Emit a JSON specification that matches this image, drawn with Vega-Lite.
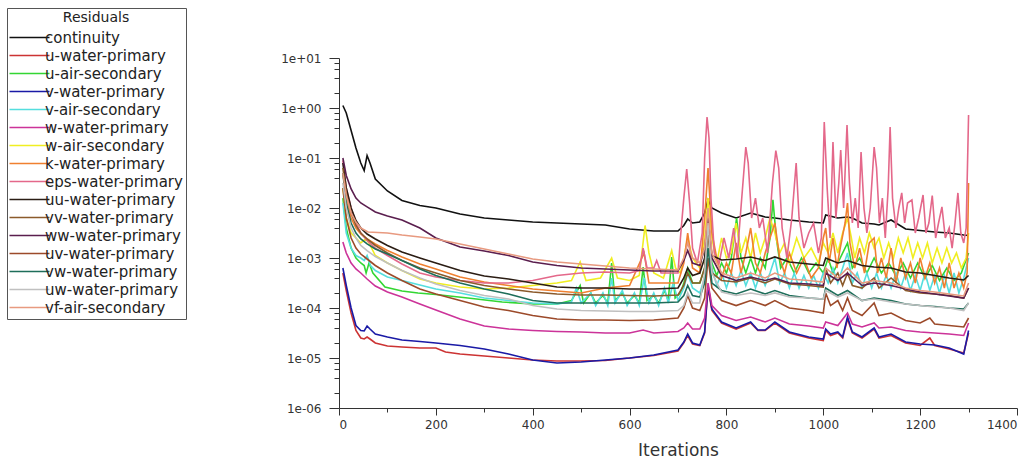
{
"$schema": "https://vega.github.io/schema/vega-lite/v6.json",
"autosize": "none",
"width": 678,
"height": 350,
"padding": {"left": 339, "top": 58, "right": 15, "bottom": 60},
"background": "white",
"config": {
  "view": {"stroke": null},
  "line": {"strokeWidth": 1.6, "interpolate": "linear"},
  "axis": {"grid": false, "domainColor": "#333", "tickColor": "#333", "labelColor": "#333", "labelFont": "DejaVu Sans", "titleFont": "DejaVu Sans", "titleColor": "#333", "titleFontWeight": "normal"}
},
"datasets": {
"continuity": [{"x":8,"y":1.12},{"x":15,"y":0.794},{"x":25,"y":0.355},{"x":35,"y":0.158},{"x":45,"y":0.0794},{"x":52,"y":0.0562},{"x":58,"y":0.112},{"x":64,"y":0.0794},{"x":75,"y":0.038},{"x":100,"y":0.0219},{"x":130,"y":0.0141},{"x":167,"y":0.0112},{"x":200,"y":0.01},{"x":250,"y":7.59e-3},{"x":300,"y":6.31e-3},{"x":350,"y":5.75e-3},{"x":400,"y":5.25e-3},{"x":450,"y":5.01e-3},{"x":500,"y":4.79e-3},{"x":550,"y":4.57e-3},{"x":600,"y":3.8e-3},{"x":650,"y":3.47e-3},{"x":700,"y":3.47e-3},{"x":712,"y":4.47e-3},{"x":720,"y":6.03e-3},{"x":730,"y":5.01e-3},{"x":745,"y":5.25e-3},{"x":755,"y":7.94e-3},{"x":762,"y":1.45e-2},{"x":770,"y":1e-2},{"x":790,"y":7.94e-3},{"x":820,"y":6.31e-3},{"x":850,"y":7.94e-3},{"x":880,"y":6.61e-3},{"x":900,"y":6.31e-3},{"x":930,"y":5.75e-3},{"x":970,"y":5.25e-3},{"x":1000,"y":5.01e-3},{"x":1005,"y":7.24e-3},{"x":1030,"y":6.31e-3},{"x":1050,"y":6.61e-3},{"x":1060,"y":6.31e-3},{"x":1080,"y":5.01e-3},{"x":1105,"y":4.79e-3},{"x":1115,"y":4.57e-3},{"x":1140,"y":5.75e-3},{"x":1170,"y":3.8e-3},{"x":1200,"y":3.55e-3},{"x":1230,"y":3.31e-3},{"x":1260,"y":3.16e-3},{"x":1290,"y":2.88e-3},{"x":1300,"y":2.82e-3}],
"u-water-primary": [{"x":8,"y":5.01e-4},{"x":15,"y":2.24e-4},{"x":25,"y":7.94e-5},{"x":35,"y":3.55e-5},{"x":45,"y":2.51e-5},{"x":52,"y":2.4e-5},{"x":58,"y":2.63e-5},{"x":64,"y":2.4e-5},{"x":75,"y":2.0e-5},{"x":100,"y":1.74e-5},{"x":130,"y":1.66e-5},{"x":167,"y":1.58e-5},{"x":200,"y":1.58e-5},{"x":220,"y":1.32e-5},{"x":250,"y":1.2e-5},{"x":300,"y":1.1e-5},{"x":350,"y":1.0e-5},{"x":400,"y":9.12e-6},{"x":450,"y":8.71e-6},{"x":500,"y":8.71e-6},{"x":550,"y":8.91e-6},{"x":600,"y":1.0e-5},{"x":650,"y":1.12e-5},{"x":700,"y":1.38e-5},{"x":712,"y":2.0e-5},{"x":720,"y":2.82e-5},{"x":730,"y":1.91e-5},{"x":745,"y":1.78e-5},{"x":755,"y":3.16e-5},{"x":762,"y":2.51e-4},{"x":770,"y":8.91e-5},{"x":790,"y":5.01e-5},{"x":820,"y":3.8e-5},{"x":850,"y":5.01e-5},{"x":865,"y":3.55e-5},{"x":880,"y":3.55e-5},{"x":900,"y":5.01e-5},{"x":930,"y":3.16e-5},{"x":970,"y":2.51e-5},{"x":1000,"y":2.24e-5},{"x":1005,"y":3.55e-5},{"x":1015,"y":2.82e-5},{"x":1030,"y":3.16e-5},{"x":1040,"y":2.51e-5},{"x":1050,"y":6.03e-5},{"x":1060,"y":3.16e-5},{"x":1080,"y":2.51e-5},{"x":1105,"y":3.8e-5},{"x":1115,"y":2.51e-5},{"x":1140,"y":2.82e-5},{"x":1170,"y":2.0e-5},{"x":1200,"y":1.78e-5},{"x":1220,"y":2.51e-5},{"x":1230,"y":1.78e-5},{"x":1260,"y":1.51e-5},{"x":1290,"y":1.26e-5},{"x":1300,"y":3.16e-5}],
"u-air-secondary": [{"x":8,"y":1.58e-2},{"x":15,"y":3.98e-3},{"x":25,"y":1.58e-3},{"x":35,"y":1.0e-3},{"x":45,"y":7.94e-4},{"x":52,"y":7.08e-4},{"x":56,"y":5.01e-4},{"x":62,"y":7.94e-4},{"x":70,"y":5.01e-4},{"x":95,"y":2.63e-4},{"x":130,"y":2.19e-4},{"x":163,"y":2.0e-4},{"x":200,"y":1.86e-4},{"x":266,"y":1.58e-4},{"x":337,"y":1.32e-4},{"x":400,"y":1.2e-4},{"x":450,"y":1.2e-4},{"x":480,"y":1.41e-4},{"x":498,"y":2.82e-4},{"x":505,"y":1.26e-4},{"x":520,"y":2.0e-4},{"x":530,"y":1.26e-4},{"x":545,"y":1.78e-4},{"x":555,"y":1.26e-4},{"x":563,"y":7.94e-4},{"x":570,"y":1.41e-4},{"x":585,"y":2.0e-4},{"x":595,"y":1.26e-4},{"x":610,"y":1.78e-4},{"x":620,"y":1.26e-4},{"x":628,"y":6.61e-4},{"x":636,"y":1.41e-4},{"x":650,"y":1.78e-4},{"x":660,"y":1.26e-4},{"x":672,"y":2.24e-4},{"x":680,"y":1.41e-4},{"x":687,"y":1.05e-3},{"x":694,"y":1.58e-4},{"x":705,"y":2.0e-4},{"x":712,"y":3.16e-4},{"x":720,"y":6.31e-4},{"x":730,"y":3.16e-4},{"x":745,"y":3.16e-4},{"x":755,"y":6.31e-4},{"x":762,"y":3.98e-3},{"x":770,"y":7.94e-4},{"x":780,"y":4.47e-4},{"x":790,"y":7.94e-4},{"x":800,"y":5.01e-4},{"x":810,"y":1.0e-3},{"x":821,"y":6.31e-3},{"x":830,"y":1.0e-3},{"x":840,"y":5.01e-4},{"x":850,"y":1.0e-3},{"x":860,"y":5.01e-4},{"x":870,"y":1.0e-3},{"x":880,"y":6.31e-4},{"x":890,"y":2.51e-3},{"x":896,"y":1.45e-2},{"x":903,"y":2.51e-3},{"x":912,"y":6.31e-4},{"x":925,"y":1.0e-3},{"x":940,"y":5.01e-4},{"x":955,"y":1.0e-3},{"x":970,"y":5.01e-4},{"x":985,"y":7.94e-4},{"x":1000,"y":5.01e-4},{"x":1010,"y":1.0e-3},{"x":1020,"y":5.01e-4},{"x":1035,"y":1.0e-3},{"x":1050,"y":2.0e-3},{"x":1060,"y":6.31e-4},{"x":1075,"y":1.0e-3},{"x":1090,"y":5.01e-4},{"x":1105,"y":1.0e-3},{"x":1120,"y":5.01e-4},{"x":1135,"y":7.94e-4},{"x":1150,"y":4.47e-4},{"x":1165,"y":7.94e-4},{"x":1180,"y":3.98e-4},{"x":1195,"y":7.94e-4},{"x":1210,"y":3.98e-4},{"x":1225,"y":7.08e-4},{"x":1240,"y":3.55e-4},{"x":1255,"y":6.31e-4},{"x":1270,"y":3.55e-4},{"x":1285,"y":5.01e-4},{"x":1300,"y":1.26e-3}],
"v-water-primary": [{"x":8,"y":6.31e-4},{"x":15,"y":2.82e-4},{"x":25,"y":1.0e-4},{"x":35,"y":4.47e-5},{"x":45,"y":3.55e-5},{"x":52,"y":3.47e-5},{"x":58,"y":4.37e-5},{"x":64,"y":3.8e-5},{"x":75,"y":3.02e-5},{"x":100,"y":2.63e-5},{"x":130,"y":2.29e-5},{"x":167,"y":2.14e-5},{"x":200,"y":2.0e-5},{"x":250,"y":1.78e-5},{"x":300,"y":1.51e-5},{"x":350,"y":1.2e-5},{"x":400,"y":9.12e-6},{"x":450,"y":7.94e-6},{"x":500,"y":8.32e-6},{"x":550,"y":9.12e-6},{"x":600,"y":1.0e-5},{"x":650,"y":1.15e-5},{"x":700,"y":1.45e-5},{"x":712,"y":2.09e-5},{"x":720,"y":3.02e-5},{"x":730,"y":2.0e-5},{"x":745,"y":1.82e-5},{"x":755,"y":3.31e-5},{"x":762,"y":2.82e-4},{"x":770,"y":9.55e-5},{"x":790,"y":5.25e-5},{"x":820,"y":3.98e-5},{"x":850,"y":5.25e-5},{"x":865,"y":3.63e-5},{"x":880,"y":3.63e-5},{"x":900,"y":5.25e-5},{"x":930,"y":3.31e-5},{"x":970,"y":2.63e-5},{"x":1000,"y":2.4e-5},{"x":1005,"y":3.8e-5},{"x":1015,"y":3.02e-5},{"x":1030,"y":3.31e-5},{"x":1040,"y":2.63e-5},{"x":1050,"y":6.61e-5},{"x":1060,"y":3.31e-5},{"x":1080,"y":2.63e-5},{"x":1105,"y":3.98e-5},{"x":1115,"y":2.63e-5},{"x":1140,"y":3.02e-5},{"x":1170,"y":2.09e-5},{"x":1200,"y":1.91e-5},{"x":1230,"y":1.82e-5},{"x":1260,"y":1.58e-5},{"x":1290,"y":1.2e-5},{"x":1300,"y":3.55e-5}],
"v-air-secondary": [{"x":8,"y":1.26e-2},{"x":15,"y":3.16e-3},{"x":25,"y":1.58e-3},{"x":35,"y":1.12e-3},{"x":45,"y":1.0e-3},{"x":52,"y":8.91e-4},{"x":58,"y":1.12e-3},{"x":65,"y":7.08e-4},{"x":75,"y":5.62e-4},{"x":100,"y":4.17e-4},{"x":130,"y":3.55e-4},{"x":167,"y":2.88e-4},{"x":200,"y":2.4e-4},{"x":250,"y":2.0e-4},{"x":300,"y":1.58e-4},{"x":350,"y":1.41e-4},{"x":400,"y":1.26e-4},{"x":450,"y":1.2e-4},{"x":480,"y":1.32e-4},{"x":490,"y":2.51e-4},{"x":500,"y":1.26e-4},{"x":520,"y":2.0e-4},{"x":530,"y":1.12e-4},{"x":545,"y":2.0e-4},{"x":555,"y":1.12e-4},{"x":563,"y":3.98e-4},{"x":570,"y":1.26e-4},{"x":585,"y":2.24e-4},{"x":595,"y":1.12e-4},{"x":610,"y":2.0e-4},{"x":620,"y":1.12e-4},{"x":630,"y":3.98e-4},{"x":640,"y":1.26e-4},{"x":650,"y":2.0e-4},{"x":660,"y":1.12e-4},{"x":672,"y":2.51e-4},{"x":680,"y":1.26e-4},{"x":690,"y":3.16e-4},{"x":700,"y":1.41e-4},{"x":712,"y":2.51e-4},{"x":720,"y":5.01e-4},{"x":730,"y":2.51e-4},{"x":745,"y":2.0e-4},{"x":755,"y":3.98e-4},{"x":762,"y":3.16e-3},{"x":770,"y":6.31e-4},{"x":780,"y":2.82e-4},{"x":790,"y":5.01e-4},{"x":800,"y":2.51e-4},{"x":810,"y":5.01e-4},{"x":820,"y":2.82e-4},{"x":830,"y":5.62e-4},{"x":840,"y":2.82e-4},{"x":850,"y":5.01e-4},{"x":860,"y":2.51e-4},{"x":870,"y":5.01e-4},{"x":880,"y":2.82e-4},{"x":890,"y":5.01e-4},{"x":900,"y":1.0e-3},{"x":910,"y":3.16e-4},{"x":920,"y":5.01e-4},{"x":930,"y":2.51e-4},{"x":940,"y":5.01e-4},{"x":950,"y":2.51e-4},{"x":960,"y":4.47e-4},{"x":970,"y":2.51e-4},{"x":980,"y":4.47e-4},{"x":990,"y":2.51e-4},{"x":1000,"y":5.01e-4},{"x":1010,"y":3.16e-4},{"x":1020,"y":6.31e-4},{"x":1030,"y":3.16e-4},{"x":1040,"y":6.31e-4},{"x":1050,"y":1.26e-3},{"x":1060,"y":3.16e-4},{"x":1070,"y":5.01e-4},{"x":1080,"y":2.51e-4},{"x":1090,"y":5.01e-4},{"x":1100,"y":2.51e-4},{"x":1110,"y":5.01e-4},{"x":1120,"y":2.51e-4},{"x":1130,"y":4.47e-4},{"x":1140,"y":2.51e-4},{"x":1150,"y":5.01e-4},{"x":1160,"y":2.51e-4},{"x":1170,"y":5.01e-4},{"x":1180,"y":2.24e-4},{"x":1190,"y":4.47e-4},{"x":1200,"y":2.24e-4},{"x":1210,"y":5.01e-4},{"x":1220,"y":2.24e-4},{"x":1230,"y":4.47e-4},{"x":1240,"y":2.0e-4},{"x":1250,"y":4.47e-4},{"x":1260,"y":2.0e-4},{"x":1270,"y":5.01e-4},{"x":1280,"y":2.0e-4},{"x":1290,"y":3.98e-4},{"x":1300,"y":1.0e-3}],
"w-water-primary": [{"x":8,"y":2.09e-3},{"x":15,"y":1.26e-3},{"x":25,"y":7.94e-4},{"x":35,"y":6.03e-4},{"x":45,"y":5.01e-4},{"x":58,"y":3.8e-4},{"x":75,"y":2.75e-4},{"x":100,"y":2.09e-4},{"x":130,"y":1.66e-4},{"x":167,"y":1.2e-4},{"x":200,"y":9.12e-5},{"x":250,"y":6.03e-5},{"x":300,"y":4.37e-5},{"x":350,"y":3.8e-5},{"x":400,"y":3.55e-5},{"x":450,"y":3.39e-5},{"x":500,"y":3.31e-5},{"x":550,"y":3.16e-5},{"x":600,"y":3.16e-5},{"x":628,"y":3.63e-5},{"x":650,"y":3.16e-5},{"x":700,"y":3.39e-5},{"x":712,"y":3.98e-5},{"x":720,"y":5.01e-5},{"x":730,"y":3.8e-5},{"x":745,"y":3.8e-5},{"x":755,"y":6.31e-5},{"x":762,"y":3.16e-4},{"x":770,"y":1.12e-4},{"x":790,"y":7.08e-5},{"x":820,"y":5.62e-5},{"x":850,"y":6.61e-5},{"x":880,"y":5.25e-5},{"x":900,"y":6.31e-5},{"x":930,"y":4.79e-5},{"x":970,"y":4.37e-5},{"x":1000,"y":3.98e-5},{"x":1005,"y":5.25e-5},{"x":1030,"y":4.47e-5},{"x":1050,"y":7.94e-5},{"x":1060,"y":4.79e-5},{"x":1080,"y":4.17e-5},{"x":1105,"y":5.01e-5},{"x":1115,"y":3.98e-5},{"x":1140,"y":4.17e-5},{"x":1170,"y":3.55e-5},{"x":1200,"y":3.31e-5},{"x":1230,"y":3.16e-5},{"x":1260,"y":3.02e-5},{"x":1290,"y":2.82e-5},{"x":1300,"y":5.01e-5}],
"w-air-secondary": [{"x":8,"y":2.51e-2},{"x":15,"y":6.31e-3},{"x":25,"y":3.16e-3},{"x":35,"y":2.51e-3},{"x":45,"y":2.0e-3},{"x":55,"y":2.4e-3},{"x":62,"y":2.0e-3},{"x":75,"y":1.12e-3},{"x":100,"y":7.94e-4},{"x":130,"y":5.62e-4},{"x":167,"y":3.8e-4},{"x":200,"y":3.16e-4},{"x":250,"y":2.63e-4},{"x":300,"y":2.4e-4},{"x":350,"y":2.51e-4},{"x":400,"y":2.82e-4},{"x":450,"y":3.16e-4},{"x":480,"y":3.55e-4},{"x":498,"y":8.32e-4},{"x":510,"y":3.55e-4},{"x":540,"y":3.98e-4},{"x":563,"y":1.0e-3},{"x":575,"y":3.98e-4},{"x":600,"y":3.55e-4},{"x":620,"y":4.47e-4},{"x":632,"y":4.47e-3},{"x":640,"y":1.26e-3},{"x":650,"y":5.01e-4},{"x":670,"y":3.98e-4},{"x":687,"y":1.41e-3},{"x":695,"y":6.31e-4},{"x":705,"y":5.01e-4},{"x":712,"y":1.0e-3},{"x":720,"y":2.51e-3},{"x":730,"y":1.0e-3},{"x":745,"y":6.31e-4},{"x":755,"y":2.51e-3},{"x":762,"y":1.58e-2},{"x":770,"y":2.51e-3},{"x":780,"y":7.94e-4},{"x":790,"y":2.51e-3},{"x":800,"y":1.0e-3},{"x":810,"y":1.26e-3},{"x":820,"y":5.01e-3},{"x":830,"y":1.26e-3},{"x":840,"y":2.51e-3},{"x":850,"y":1.0e-3},{"x":860,"y":3.16e-3},{"x":870,"y":1.26e-3},{"x":880,"y":2.51e-3},{"x":890,"y":6.31e-3},{"x":900,"y":3.16e-3},{"x":910,"y":1.26e-3},{"x":920,"y":2.0e-3},{"x":930,"y":7.94e-4},{"x":945,"y":2.51e-3},{"x":960,"y":1.0e-3},{"x":975,"y":1.58e-3},{"x":990,"y":7.94e-4},{"x":1000,"y":2.0e-3},{"x":1010,"y":1.26e-3},{"x":1020,"y":3.16e-3},{"x":1030,"y":1.26e-3},{"x":1040,"y":3.16e-3},{"x":1050,"y":6.31e-3},{"x":1058,"y":2.51e-3},{"x":1065,"y":1.0e-3},{"x":1075,"y":2.51e-3},{"x":1085,"y":1.26e-3},{"x":1095,"y":3.16e-3},{"x":1105,"y":1.58e-3},{"x":1115,"y":2.51e-3},{"x":1125,"y":1.0e-3},{"x":1135,"y":2.0e-3},{"x":1145,"y":1.0e-3},{"x":1155,"y":2.51e-3},{"x":1165,"y":1.26e-3},{"x":1175,"y":2.51e-3},{"x":1185,"y":1.0e-3},{"x":1195,"y":2.0e-3},{"x":1205,"y":1.0e-3},{"x":1215,"y":2.0e-3},{"x":1225,"y":7.94e-4},{"x":1235,"y":1.58e-3},{"x":1245,"y":7.94e-4},{"x":1255,"y":1.58e-3},{"x":1265,"y":7.94e-4},{"x":1275,"y":1.26e-3},{"x":1285,"y":6.31e-4},{"x":1295,"y":1.0e-3},{"x":1300,"y":3.16e-3}],
"k-water-primary": [{"x":8,"y":5.01e-2},{"x":15,"y":1.58e-2},{"x":25,"y":6.31e-3},{"x":35,"y":3.98e-3},{"x":45,"y":3.02e-3},{"x":58,"y":2.4e-3},{"x":75,"y":1.91e-3},{"x":100,"y":1.41e-3},{"x":130,"y":1.05e-3},{"x":167,"y":7.59e-4},{"x":200,"y":6.03e-4},{"x":250,"y":4.17e-4},{"x":300,"y":3.31e-4},{"x":350,"y":2.82e-4},{"x":400,"y":2.4e-4},{"x":450,"y":2.19e-4},{"x":500,"y":2.0e-4},{"x":550,"y":2.51e-4},{"x":600,"y":2.82e-4},{"x":630,"y":1.26e-3},{"x":640,"y":3.16e-4},{"x":700,"y":3.16e-4},{"x":712,"y":7.94e-4},{"x":720,"y":3.16e-3},{"x":730,"y":6.31e-4},{"x":745,"y":5.01e-4},{"x":755,"y":6.31e-3},{"x":762,"y":6.31e-2},{"x":770,"y":3.16e-3},{"x":780,"y":1.0e-3},{"x":790,"y":3.98e-4},{"x":800,"y":7.94e-4},{"x":810,"y":5.01e-4},{"x":820,"y":2.0e-3},{"x":830,"y":5.01e-4},{"x":840,"y":1.26e-3},{"x":850,"y":3.98e-3},{"x":860,"y":7.94e-4},{"x":870,"y":5.01e-4},{"x":880,"y":1.26e-3},{"x":890,"y":2.51e-3},{"x":900,"y":5.01e-3},{"x":910,"y":1.0e-3},{"x":920,"y":5.01e-4},{"x":930,"y":1.26e-3},{"x":945,"y":5.01e-4},{"x":960,"y":1.0e-3},{"x":975,"y":3.98e-4},{"x":990,"y":6.31e-4},{"x":1000,"y":2.51e-3},{"x":1005,"y":3.98e-3},{"x":1012,"y":7.94e-4},{"x":1020,"y":2.51e-3},{"x":1028,"y":6.31e-4},{"x":1035,"y":1.58e-3},{"x":1045,"y":5.01e-3},{"x":1050,"y":1.26e-2},{"x":1055,"y":2.0e-3},{"x":1065,"y":6.31e-4},{"x":1075,"y":1.58e-3},{"x":1085,"y":5.01e-4},{"x":1095,"y":2.0e-3},{"x":1105,"y":2.51e-3},{"x":1112,"y":5.01e-4},{"x":1120,"y":1.0e-3},{"x":1130,"y":3.98e-4},{"x":1140,"y":1.58e-3},{"x":1150,"y":3.16e-4},{"x":1160,"y":1.0e-3},{"x":1170,"y":3.98e-4},{"x":1180,"y":7.94e-4},{"x":1190,"y":3.16e-4},{"x":1200,"y":1.0e-3},{"x":1210,"y":3.98e-4},{"x":1220,"y":7.94e-4},{"x":1230,"y":3.16e-4},{"x":1240,"y":6.31e-4},{"x":1250,"y":2.51e-4},{"x":1260,"y":7.94e-4},{"x":1270,"y":2.51e-4},{"x":1280,"y":5.01e-4},{"x":1290,"y":2.51e-4},{"x":1297,"y":5.01e-4},{"x":1300,"y":3.16e-2}],
"eps-water-primary": [{"x":8,"y":8.91e-2},{"x":15,"y":2.51e-2},{"x":25,"y":1e-2},{"x":35,"y":5.01e-3},{"x":45,"y":3.16e-3},{"x":58,"y":2.24e-3},{"x":75,"y":1.58e-3},{"x":100,"y":1.12e-3},{"x":130,"y":7.59e-4},{"x":167,"y":5.01e-4},{"x":200,"y":4.17e-4},{"x":250,"y":3.55e-4},{"x":300,"y":3.16e-4},{"x":350,"y":3.16e-4},{"x":400,"y":3.55e-4},{"x":450,"y":4.47e-4},{"x":500,"y":5.01e-4},{"x":550,"y":5.25e-4},{"x":600,"y":5.01e-4},{"x":620,"y":5.62e-4},{"x":628,"y":1.58e-3},{"x":636,"y":6.31e-4},{"x":650,"y":6.31e-4},{"x":656,"y":8.91e-4},{"x":665,"y":5.01e-4},{"x":700,"y":5.01e-4},{"x":705,"y":2.51e-3},{"x":712,"y":1.58e-2},{"x":718,"y":6.03e-2},{"x":724,"y":1.26e-2},{"x":730,"y":1.58e-3},{"x":740,"y":7.94e-4},{"x":750,"y":3.16e-3},{"x":755,"y":0.1},{"x":760,"y":0.661},{"x":764,"y":0.251},{"x":768,"y":1.58e-2},{"x":775,"y":1.26e-3},{"x":785,"y":7.94e-4},{"x":795,"y":2.51e-3},{"x":805,"y":1.0e-3},{"x":815,"y":3.98e-3},{"x":822,"y":1.0e-3},{"x":830,"y":1.0e-2},{"x":840,"y":0.166},{"x":845,"y":7.94e-2},{"x":852,"y":6.31e-3},{"x":860,"y":1.58e-2},{"x":868,"y":3.98e-3},{"x":875,"y":6.31e-3},{"x":885,"y":1.26e-3},{"x":895,"y":3.16e-2},{"x":902,"y":0.141},{"x":908,"y":6.31e-2},{"x":915,"y":3.98e-3},{"x":925,"y":1.0e-3},{"x":935,"y":6.31e-3},{"x":944,"y":7.94e-2},{"x":950,"y":6.31e-3},{"x":960,"y":1.58e-3},{"x":970,"y":3.16e-3},{"x":980,"y":5.01e-3},{"x":990,"y":1.26e-3},{"x":996,"y":2.51e-3},{"x":1002,"y":0.525},{"x":1008,"y":2.51e-2},{"x":1014,"y":2.51e-3},{"x":1020,"y":0.209},{"x":1026,"y":6.31e-3},{"x":1032,"y":3.16e-2},{"x":1036,"y":0.145},{"x":1042,"y":1.0e-2},{"x":1049,"y":0.457},{"x":1054,"y":3.16e-2},{"x":1060,"y":5.01e-3},{"x":1066,"y":1.58e-2},{"x":1072,"y":3.98e-3},{"x":1078,"y":0.132},{"x":1084,"y":1.0e-2},{"x":1090,"y":3.16e-3},{"x":1097,"y":1.0e-2},{"x":1105,"y":0.166},{"x":1110,"y":6.31e-2},{"x":1116,"y":5.01e-3},{"x":1122,"y":1.58e-2},{"x":1128,"y":2.51e-3},{"x":1134,"y":2.51e-2},{"x":1138,"y":0.417},{"x":1143,"y":1.58e-2},{"x":1150,"y":3.98e-3},{"x":1156,"y":1.0e-2},{"x":1162,"y":2.0e-2},{"x":1168,"y":5.01e-3},{"x":1174,"y":1.26e-2},{"x":1183,"y":1.45e-2},{"x":1190,"y":3.16e-3},{"x":1197,"y":6.31e-3},{"x":1206,"y":1.82e-2},{"x":1212,"y":3.16e-3},{"x":1218,"y":5.01e-3},{"x":1225,"y":1.78e-2},{"x":1232,"y":2.51e-3},{"x":1238,"y":5.01e-3},{"x":1245,"y":1.05e-2},{"x":1252,"y":2.51e-3},{"x":1260,"y":3.98e-3},{"x":1266,"y":1.58e-3},{"x":1272,"y":5.01e-3},{"x":1278,"y":2.0e-2},{"x":1284,"y":3.16e-3},{"x":1290,"y":2.0e-3},{"x":1295,"y":3.98e-3},{"x":1300,"y":0.724}],
"uu-water-primary": [{"x":8,"y":7.94e-2},{"x":15,"y":2.51e-2},{"x":25,"y":1e-2},{"x":35,"y":5.62e-3},{"x":45,"y":3.98e-3},{"x":58,"y":3.02e-3},{"x":75,"y":2.4e-3},{"x":100,"y":1.78e-3},{"x":130,"y":1.32e-3},{"x":167,"y":1.0e-3},{"x":200,"y":7.94e-4},{"x":250,"y":5.62e-4},{"x":300,"y":4.37e-4},{"x":350,"y":3.8e-4},{"x":400,"y":3.16e-4},{"x":450,"y":2.63e-4},{"x":500,"y":2.51e-4},{"x":550,"y":2.51e-4},{"x":600,"y":2.4e-4},{"x":650,"y":2.4e-4},{"x":700,"y":2.51e-4},{"x":712,"y":3.98e-4},{"x":720,"y":6.31e-4},{"x":730,"y":4.47e-4},{"x":745,"y":5.01e-4},{"x":755,"y":1.0e-3},{"x":762,"y":6.31e-3},{"x":770,"y":1.12e-3},{"x":790,"y":9.12e-4},{"x":820,"y":9.55e-4},{"x":850,"y":1.05e-3},{"x":880,"y":8.91e-4},{"x":900,"y":1.05e-3},{"x":930,"y":8.32e-4},{"x":970,"y":7.59e-4},{"x":1000,"y":7.08e-4},{"x":1005,"y":1.0e-3},{"x":1030,"y":7.94e-4},{"x":1050,"y":8.91e-4},{"x":1080,"y":7.08e-4},{"x":1105,"y":6.61e-4},{"x":1140,"y":6.31e-4},{"x":1170,"y":5.25e-4},{"x":1200,"y":5.01e-4},{"x":1230,"y":4.47e-4},{"x":1260,"y":3.98e-4},{"x":1290,"y":3.63e-4},{"x":1300,"y":4.47e-4}],
"vv-water-primary": [{"x":8,"y":6.31e-2},{"x":15,"y":2.0e-2},{"x":25,"y":7.94e-3},{"x":35,"y":4.47e-3},{"x":45,"y":3.16e-3},{"x":58,"y":2.4e-3},{"x":75,"y":1.78e-3},{"x":100,"y":1.26e-3},{"x":130,"y":8.91e-4},{"x":167,"y":6.31e-4},{"x":200,"y":5.01e-4},{"x":250,"y":3.55e-4},{"x":300,"y":2.82e-4},{"x":350,"y":2.4e-4},{"x":400,"y":2.09e-4},{"x":450,"y":1.91e-4},{"x":500,"y":1.82e-4},{"x":550,"y":1.82e-4},{"x":600,"y":1.78e-4},{"x":650,"y":1.74e-4},{"x":700,"y":1.82e-4},{"x":712,"y":2.82e-4},{"x":720,"y":5.01e-4},{"x":730,"y":3.16e-4},{"x":745,"y":3.16e-4},{"x":755,"y":6.31e-4},{"x":762,"y":3.16e-3},{"x":770,"y":5.01e-4},{"x":790,"y":3.55e-4},{"x":820,"y":3.31e-4},{"x":850,"y":3.98e-4},{"x":880,"y":3.16e-4},{"x":900,"y":3.8e-4},{"x":930,"y":3.02e-4},{"x":970,"y":2.82e-4},{"x":1000,"y":2.63e-4},{"x":1005,"y":6.31e-4},{"x":1015,"y":3.16e-4},{"x":1030,"y":5.01e-4},{"x":1040,"y":2.82e-4},{"x":1050,"y":5.01e-4},{"x":1060,"y":2.82e-4},{"x":1080,"y":2.51e-4},{"x":1105,"y":3.98e-4},{"x":1115,"y":2.51e-4},{"x":1140,"y":3.98e-4},{"x":1170,"y":2.24e-4},{"x":1200,"y":2.0e-4},{"x":1230,"y":1.91e-4},{"x":1260,"y":1.78e-4},{"x":1290,"y":1.58e-4},{"x":1300,"y":2.51e-4}],
"ww-water-primary": [{"x":8,"y":0.1},{"x":15,"y":4.47e-2},{"x":25,"y":2.4e-2},{"x":35,"y":1.58e-2},{"x":45,"y":1.26e-2},{"x":58,"y":1.05e-2},{"x":75,"y":8.32e-3},{"x":100,"y":6.92e-3},{"x":130,"y":5.75e-3},{"x":167,"y":3.98e-3},{"x":200,"y":2.51e-3},{"x":250,"y":1.66e-3},{"x":300,"y":1.38e-3},{"x":350,"y":1.12e-3},{"x":400,"y":8.32e-4},{"x":450,"y":7.08e-4},{"x":500,"y":6.31e-4},{"x":550,"y":6.03e-4},{"x":600,"y":5.75e-4},{"x":650,"y":5.5e-4},{"x":700,"y":5.5e-4},{"x":712,"y":8.91e-4},{"x":720,"y":1.41e-3},{"x":730,"y":7.94e-4},{"x":745,"y":7.08e-4},{"x":755,"y":1.58e-3},{"x":762,"y":6.31e-3},{"x":770,"y":1.0e-3},{"x":790,"y":4.47e-4},{"x":820,"y":3.55e-4},{"x":850,"y":4.17e-4},{"x":880,"y":3.55e-4},{"x":900,"y":3.98e-4},{"x":930,"y":3.16e-4},{"x":970,"y":3.02e-4},{"x":1000,"y":2.82e-4},{"x":1005,"y":5.01e-4},{"x":1030,"y":3.55e-4},{"x":1050,"y":5.01e-4},{"x":1080,"y":2.82e-4},{"x":1105,"y":3.16e-4},{"x":1140,"y":2.82e-4},{"x":1170,"y":2.4e-4},{"x":1200,"y":2.09e-4},{"x":1230,"y":1.91e-4},{"x":1260,"y":1.74e-4},{"x":1290,"y":1.58e-4},{"x":1300,"y":2.51e-4}],
"uv-water-primary": [{"x":8,"y":2.51e-2},{"x":15,"y":6.31e-3},{"x":25,"y":2.51e-3},{"x":35,"y":1.58e-3},{"x":45,"y":1.2e-3},{"x":58,"y":9.55e-4},{"x":75,"y":7.08e-4},{"x":100,"y":5.01e-4},{"x":130,"y":3.55e-4},{"x":167,"y":2.4e-4},{"x":200,"y":1.91e-4},{"x":250,"y":1.41e-4},{"x":300,"y":1.05e-4},{"x":350,"y":8.91e-5},{"x":400,"y":7.08e-5},{"x":450,"y":6.03e-5},{"x":500,"y":5.75e-5},{"x":550,"y":5.75e-5},{"x":600,"y":5.62e-5},{"x":650,"y":5.75e-5},{"x":700,"y":6.31e-5},{"x":712,"y":1.0e-4},{"x":720,"y":1.78e-4},{"x":730,"y":1.0e-4},{"x":745,"y":8.91e-5},{"x":755,"y":1.58e-4},{"x":762,"y":1.0e-3},{"x":770,"y":2.51e-4},{"x":790,"y":1.41e-4},{"x":820,"y":1.12e-4},{"x":850,"y":1.41e-4},{"x":880,"y":1.12e-4},{"x":900,"y":1.41e-4},{"x":930,"y":1.0e-4},{"x":970,"y":8.91e-5},{"x":1000,"y":7.94e-5},{"x":1005,"y":2.0e-4},{"x":1015,"y":1.12e-4},{"x":1030,"y":1.41e-4},{"x":1040,"y":8.91e-5},{"x":1050,"y":1.58e-4},{"x":1060,"y":8.91e-5},{"x":1080,"y":7.08e-5},{"x":1105,"y":1.26e-4},{"x":1115,"y":7.08e-5},{"x":1140,"y":7.94e-5},{"x":1170,"y":5.62e-5},{"x":1200,"y":5.01e-5},{"x":1220,"y":6.31e-5},{"x":1230,"y":4.79e-5},{"x":1260,"y":4.47e-5},{"x":1290,"y":4.17e-5},{"x":1300,"y":6.31e-5}],
"vw-water-primary": [{"x":8,"y":5.01e-2},{"x":15,"y":1.26e-2},{"x":25,"y":5.01e-3},{"x":35,"y":3.16e-3},{"x":45,"y":2.4e-3},{"x":58,"y":1.91e-3},{"x":75,"y":1.51e-3},{"x":100,"y":1.2e-3},{"x":130,"y":8.91e-4},{"x":167,"y":6.03e-4},{"x":200,"y":4.47e-4},{"x":250,"y":3.16e-4},{"x":300,"y":2.4e-4},{"x":350,"y":1.91e-4},{"x":400,"y":1.41e-4},{"x":450,"y":1.26e-4},{"x":500,"y":1.26e-4},{"x":550,"y":1.26e-4},{"x":600,"y":1.26e-4},{"x":650,"y":1.26e-4},{"x":700,"y":1.32e-4},{"x":712,"y":1.78e-4},{"x":720,"y":2.82e-4},{"x":730,"y":1.78e-4},{"x":745,"y":1.66e-4},{"x":755,"y":3.16e-4},{"x":762,"y":1.58e-3},{"x":770,"y":3.16e-4},{"x":790,"y":2.24e-4},{"x":820,"y":1.91e-4},{"x":850,"y":2.4e-4},{"x":880,"y":1.91e-4},{"x":900,"y":2.24e-4},{"x":930,"y":1.78e-4},{"x":970,"y":1.58e-4},{"x":1000,"y":1.51e-4},{"x":1005,"y":2.51e-4},{"x":1030,"y":1.78e-4},{"x":1050,"y":2.24e-4},{"x":1080,"y":1.41e-4},{"x":1105,"y":1.58e-4},{"x":1140,"y":1.41e-4},{"x":1170,"y":1.2e-4},{"x":1200,"y":1.12e-4},{"x":1230,"y":1.07e-4},{"x":1260,"y":1.0e-4},{"x":1290,"y":9.55e-5},{"x":1300,"y":1.26e-4}],
"uw-water-primary": [{"x":8,"y":3.16e-2},{"x":15,"y":1e-2},{"x":25,"y":3.98e-3},{"x":35,"y":2.51e-3},{"x":45,"y":1.78e-3},{"x":58,"y":1.41e-3},{"x":75,"y":1.07e-3},{"x":100,"y":7.94e-4},{"x":130,"y":5.62e-4},{"x":167,"y":3.98e-4},{"x":200,"y":3.02e-4},{"x":250,"y":2.24e-4},{"x":300,"y":1.78e-4},{"x":350,"y":1.51e-4},{"x":400,"y":1.12e-4},{"x":450,"y":9.55e-5},{"x":500,"y":8.91e-5},{"x":550,"y":8.71e-5},{"x":600,"y":8.51e-5},{"x":650,"y":8.51e-5},{"x":700,"y":8.91e-5},{"x":712,"y":1.12e-4},{"x":720,"y":2.0e-4},{"x":730,"y":1.26e-4},{"x":745,"y":1.26e-4},{"x":755,"y":5.01e-4},{"x":762,"y":5.01e-3},{"x":770,"y":5.01e-4},{"x":790,"y":2.09e-4},{"x":820,"y":1.78e-4},{"x":850,"y":2.0e-4},{"x":880,"y":1.78e-4},{"x":900,"y":2.0e-4},{"x":930,"y":1.66e-4},{"x":970,"y":1.58e-4},{"x":1000,"y":1.51e-4},{"x":1005,"y":2.24e-4},{"x":1030,"y":1.66e-4},{"x":1050,"y":2.0e-4},{"x":1080,"y":1.41e-4},{"x":1105,"y":1.51e-4},{"x":1140,"y":1.32e-4},{"x":1170,"y":1.2e-4},{"x":1200,"y":1.12e-4},{"x":1230,"y":1.05e-4},{"x":1260,"y":1.0e-4},{"x":1290,"y":8.91e-5},{"x":1300,"y":1.26e-4}],
"vf-air-secondary": [{"x":8,"y":5.01e-2},{"x":15,"y":1.78e-2},{"x":25,"y":7.94e-3},{"x":35,"y":5.25e-3},{"x":45,"y":3.98e-3},{"x":60,"y":3.31e-3},{"x":100,"y":3.16e-3},{"x":130,"y":2.88e-3},{"x":167,"y":2.63e-3},{"x":200,"y":2.4e-3},{"x":250,"y":1.91e-3},{"x":300,"y":1.51e-3},{"x":350,"y":1.2e-3},{"x":400,"y":9.55e-4},{"x":450,"y":8.32e-4},{"x":500,"y":7.59e-4},{"x":550,"y":6.92e-4},{"x":600,"y":6.31e-4},{"x":650,"y":6.03e-4},{"x":700,"y":5.75e-4},{"x":712,"y":1.0e-3},{"x":720,"y":2.0e-3},{"x":730,"y":1.0e-3},{"x":745,"y":7.94e-4},{"x":755,"y":1.58e-3},{"x":762,"y":1.0e-2},{"x":770,"y":1.26e-3},{"x":790,"y":5.01e-4},{"x":820,"y":3.98e-4},{"x":850,"y":5.01e-4},{"x":880,"y":3.98e-4},{"x":900,"y":5.01e-4},{"x":930,"y":3.8e-4},{"x":970,"y":3.55e-4},{"x":1000,"y":3.31e-4},{"x":1005,"y":6.31e-4},{"x":1030,"y":3.98e-4},{"x":1050,"y":6.31e-4},{"x":1080,"y":3.16e-4},{"x":1105,"y":3.55e-4},{"x":1140,"y":3.16e-4},{"x":1170,"y":2.51e-4},{"x":1200,"y":2.24e-4},{"x":1230,"y":2.09e-4},{"x":1260,"y":1.91e-4},{"x":1290,"y":1.74e-4},{"x":1300,"y":3.16e-4}]
},
"encoding": {
  "x": {"field": "x", "type": "quantitative", "scale": {"domain": [0, 1400], "nice": false, "zero": false},
    "axis": {"title": "Iterations", "titleFontSize": 17, "titlePadding": 12, "labelFontSize": 12, "format": "d",
      "values": [0,100,200,300,400,500,600,700,800,900,1000,1100,1200,1300,1400],
      "labelExpr": "datum.value % 200 == 0 ? datum.label : ''",
      "tickSize": {"condition": {"test": "datum.value % 200 == 0", "value": 7}, "value": 4},
      "labelPadding": 4, "labelOverlap": false}},
  "y": {"field": "y", "type": "quantitative", "scale": {"type": "log", "domain": [1e-6, 10], "nice": false},
    "axis": {"title": null, "labelFontSize": 12, "labelOverlap": false, "labelPadding": 8,
      "values": [1e-6,2e-6,4e-6,6e-6,8e-6,1e-5,2e-5,4e-5,6e-5,8e-5,1e-4,2e-4,4e-4,6e-4,8e-4,1e-3,2e-3,4e-3,6e-3,8e-3,1e-2,2e-2,4e-2,6e-2,8e-2,0.1,0.2,0.4,0.6,0.8,1,2,4,6,8,10],
      "labelExpr": "abs(log(datum.value)/LN10 - round(log(datum.value)/LN10)) < 0.01 ? (datum.value >= 0.999 ? '1e+0' + round(log(datum.value)/LN10) : '1e-0' + round(-log(datum.value)/LN10)) : ''",
      "tickSize": {"condition": {"test": "abs(log(datum.value)/LN10 - round(log(datum.value)/LN10)) < 0.01", "value": 10}, "value": 5}}}
},
"layer": [
  {"data": {"name": "continuity"}, "mark": {"type": "line"}, "encoding": {"color": {"datum": "continuity",
    "scale": {"domain": ["continuity","u-water-primary","u-air-secondary","v-water-primary","v-air-secondary","w-water-primary","w-air-secondary","k-water-primary","eps-water-primary","uu-water-primary","vv-water-primary","ww-water-primary","uv-water-primary","vw-water-primary","uw-water-primary","vf-air-secondary"],
      "range": ["#111111","#cc3333","#33d633","#1a1aa6","#55dede","#cc3399","#f0ee22","#f08030","#e4688a","#2b1d14","#8b5a2b","#5a1e4e","#9c4a2a","#1e6e5a","#c0c0c0","#e89a80"]},
    "legend": {"orient": "none", "legendX": -332, "legendY": -50, "title": "Residuals", "titleAnchor": "middle", "titleFont": "DejaVu Sans", "titleFontSize": 14, "titleFontWeight": "normal", "titleColor": "#222", "titlePadding": 5,
      "labelFont": "DejaVu Sans", "labelFontSize": 15, "labelColor": "#222", "labelLimit": 400, "labelOffset": 8,
      "symbolType": "M-4,0H4", "symbolSize": 100, "symbolStrokeWidth": 2.5, "symbolOffset": 12, "rowPadding": 2,
      "padding": 3, "strokeColor": "#555", "fillColor": "white", "cornerRadius": 0}}}},
  {"data": {"name": "u-water-primary"}, "mark": {"type": "line"}, "encoding": {"color": {"datum": "u-water-primary"}}},
  {"data": {"name": "u-air-secondary"}, "mark": {"type": "line"}, "encoding": {"color": {"datum": "u-air-secondary"}}},
  {"data": {"name": "v-water-primary"}, "mark": {"type": "line"}, "encoding": {"color": {"datum": "v-water-primary"}}},
  {"data": {"name": "v-air-secondary"}, "mark": {"type": "line"}, "encoding": {"color": {"datum": "v-air-secondary"}}},
  {"data": {"name": "w-water-primary"}, "mark": {"type": "line"}, "encoding": {"color": {"datum": "w-water-primary"}}},
  {"data": {"name": "w-air-secondary"}, "mark": {"type": "line"}, "encoding": {"color": {"datum": "w-air-secondary"}}},
  {"data": {"name": "k-water-primary"}, "mark": {"type": "line"}, "encoding": {"color": {"datum": "k-water-primary"}}},
  {"data": {"name": "eps-water-primary"}, "mark": {"type": "line"}, "encoding": {"color": {"datum": "eps-water-primary"}}},
  {"data": {"name": "uu-water-primary"}, "mark": {"type": "line"}, "encoding": {"color": {"datum": "uu-water-primary"}}},
  {"data": {"name": "vv-water-primary"}, "mark": {"type": "line"}, "encoding": {"color": {"datum": "vv-water-primary"}}},
  {"data": {"name": "ww-water-primary"}, "mark": {"type": "line"}, "encoding": {"color": {"datum": "ww-water-primary"}}},
  {"data": {"name": "uv-water-primary"}, "mark": {"type": "line"}, "encoding": {"color": {"datum": "uv-water-primary"}}},
  {"data": {"name": "vw-water-primary"}, "mark": {"type": "line"}, "encoding": {"color": {"datum": "vw-water-primary"}}},
  {"data": {"name": "uw-water-primary"}, "mark": {"type": "line"}, "encoding": {"color": {"datum": "uw-water-primary"}}},
  {"data": {"name": "vf-air-secondary"}, "mark": {"type": "line"}, "encoding": {"color": {"datum": "vf-air-secondary"}}}
]
}
